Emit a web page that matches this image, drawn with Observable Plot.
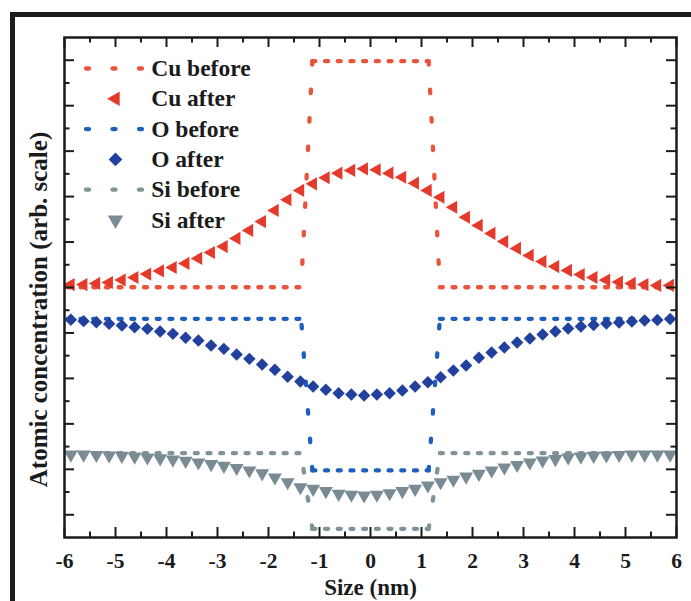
<!DOCTYPE html>
<html><head><meta charset="utf-8">
<script src="https://cdn.jsdelivr.net/npm/d3@7"></script>
<script src="https://cdn.jsdelivr.net/npm/@observablehq/plot@0.6"></script>
<style>
html,body{margin:0;padding:0;background:#fff;overflow:hidden}
#wrap{position:relative;width:691px;height:601px;overflow:hidden}
#border{position:absolute;left:10px;top:12px;width:720px;height:620px;border-top:5px solid #1c1c1a;border-left:5px solid #1c1c1a;pointer-events:none}
</style></head><body>
<div id="wrap"><div id="chart"></div><div id="border"></div></div>
<script>
// ---- data ----
const xAfter = [-5.875,-5.625,-5.375,-5.125,-4.875,-4.625,-4.375,-4.125,-3.875,-3.625,-3.375,-3.125,
  -2.875,-2.625,-2.375,-2.125,-1.875,-1.625,-1.375,-1.125,-0.875,-0.625,-0.375,-0.125,
  0.125,0.375,0.625,0.875,1.125,1.375,1.625,1.875,2.125,2.375,2.625,2.875,
  3.125,3.375,3.625,3.875,4.125,4.375,4.625,4.875,5.125,5.375,5.625,5.875];
const cuAfter = [11.13,11.13,11.18,11.22,11.33,11.44,11.59,11.73,11.88,12.06,12.28,12.54,
  12.80,13.16,13.51,13.90,14.39,14.86,15.27,15.56,15.83,16.03,16.15,16.22,
  16.18,16.03,15.85,15.59,15.27,14.97,14.53,14.09,13.73,13.38,13.02,12.72,
  12.41,12.14,11.92,11.75,11.57,11.44,11.33,11.24,11.18,11.13,11.09,11.09];
const oAfter = [9.58,9.52,9.47,9.40,9.33,9.25,9.18,9.06,8.96,8.79,8.67,8.45,
  8.30,8.05,7.86,7.61,7.38,7.07,6.86,6.64,6.50,6.35,6.29,6.25,
  6.29,6.35,6.47,6.64,6.83,7.05,7.35,7.57,7.91,8.14,8.36,8.58,
  8.76,8.93,9.06,9.20,9.28,9.35,9.42,9.46,9.50,9.55,9.57,9.61];
const siAfter = [3.65,3.65,3.63,3.61,3.59,3.56,3.52,3.48,3.43,3.37,3.30,3.23,
  3.15,3.06,2.95,2.82,2.64,2.43,2.21,2.14,2.04,1.92,1.88,1.85,
  1.88,1.95,2.04,2.14,2.29,2.43,2.54,2.68,2.80,2.95,3.08,3.19,
  3.30,3.39,3.45,3.52,3.56,3.59,3.61,3.63,3.65,3.65,3.65,3.65];
const beforeX = [-6, -1.36, -1.14, 1.14, 1.36, 6];
const cuBefore = [11.01, 11.01, 20.96, 20.96, 11.01, 11.01];
const oBefore  = [9.62, 9.62, 2.95, 2.95, 9.62, 9.62];
const siBefore = [3.71, 3.71, 0.38, 0.38, 3.71, 3.71];
const legendLabels = ["Cu before", "Cu after", "O before", "O after", "Si before", "Si after"];
const xTickLabels = [-6,-5,-4,-3,-2,-1,0,1,2,3,4,5,6];
const xMinorTicks = [-5.5,-4.5,-3.5,-2.5,-1.5,-0.5,0.5,1.5,2.5,3.5,4.5,5.5];
const yMajorTicks = [1,3,5,7,9,11,13,15,17,19,21];
const yMinorTicks = [2,4,6,8,10,12,14,16,18,20];
const xTitle = "Size (nm)";
const yTitle = "Atomic concentration (arb. scale)";

// ---- layout / style ----
const W = 691, H = 601, mL = 64, mR = 15, mT = 37, mB = 64;
const pw = W - mL - mR, ph = H - mT - mB;
const font = "'Liberation Serif','Times New Roman',serif";
const ink = "#1b1b1b";
const series = [
  {before: cuBefore, after: cuAfter, bc: "#e9553c", ac: "#e43a2b", symbol: "triangle", rotate: -90, r: 4.9},
  {before: oBefore,  after: oAfter,  bc: "#1d5fbd", ac: "#22409e", symbol: "diamond2", rotate: 0,   r: 5.6},
  {before: siBefore, after: siAfter, bc: "#80929a", ac: "#7a8b94", symbol: "triangle", rotate: 180, r: 5.2}
];
const px2x = p => -6 + (p - mL) * 12 / pw;
const py2y = p => 22 * (H - mB - p) / ph;

const marks = [];
const dashStyle = {x: "x", y: "y", strokeWidth: 4.3, strokeLinecap: "round"};
series.forEach(s => {
  const pts = beforeX.map((x, i) => ({x, y: s.before[i]}));
  const seg = (a, b) => [pts[a], pts[b]];
  marks.push(Plot.line(seg(0, 1), {...dashStyle, stroke: s.bc, strokeDasharray: "3,9.7", strokeDashoffset: -3.3}));
  marks.push(Plot.line(seg(2, 3), {...dashStyle, stroke: s.bc, strokeDasharray: "3,9.7"}));
  marks.push(Plot.line(seg(4, 5), {...dashStyle, stroke: s.bc, strokeDasharray: "3,9.7"}));
  marks.push(Plot.line(seg(2, 1), {...dashStyle, stroke: s.bc, strokeDasharray: "3.5,25"}));
  marks.push(Plot.line(seg(3, 4), {...dashStyle, stroke: s.bc, strokeDasharray: "3.5,25"}));
});
series.forEach(s => {
  marks.push(Plot.dot(xAfter.map((x, i) => ({x, y: s.after[i]})),
    {x: "x", y: "y", symbol: s.symbol, r: s.r, fill: s.ac, stroke: "none", rotate: s.rotate}));
});
// legend
legendLabels.forEach((lab, i) => {
  const yv = py2y(68 + 30.3 * i);
  const s = series[Math.floor(i / 2)];
  if (i % 2 === 0) {
    marks.push(Plot.line([{x: px2x(85.5), y: yv}, {x: px2x(141.5), y: yv}],
      {...dashStyle, stroke: s.bc, strokeDasharray: "3,23.5"}));
  } else {
    marks.push(Plot.dot([{x: px2x(115), y: yv}], {x: "x", y: "y", symbol: s.symbol, r: s.r * 1.1, fill: s.ac, rotate: s.rotate}));
  }
  marks.push(Plot.text([lab], {x: px2x(150.7), y: yv, text: d => d, textAnchor: "start", lineAnchor: "middle",
    fontSize: 23.5, fontWeight: "bold", fontFamily: font, fill: ink}));
});
// ticks (inward, all four sides)
const tk = {stroke: ink, strokeWidth: 2};
marks.push(Plot.tickX(xTickLabels, {x: d => d, insetTop: ph - 10, ...tk}));
marks.push(Plot.tickX(xTickLabels, {x: d => d, insetBottom: ph - 10, ...tk}));
marks.push(Plot.tickX(xMinorTicks, {x: d => d, insetTop: ph - 5.5, ...tk}));
marks.push(Plot.tickX(xMinorTicks, {x: d => d, insetBottom: ph - 5.5, ...tk}));
marks.push(Plot.tickY(yMajorTicks, {y: d => d, insetRight: pw - 10, ...tk}));
marks.push(Plot.tickY(yMajorTicks, {y: d => d, insetLeft: pw - 10, ...tk}));
marks.push(Plot.tickY(yMinorTicks, {y: d => d, insetRight: pw - 5.5, ...tk}));
marks.push(Plot.tickY(yMinorTicks, {y: d => d, insetLeft: pw - 5.5, ...tk}));
marks.push(Plot.frame({stroke: ink, strokeWidth: 2.5}));
// axis labels
marks.push(Plot.text(xTickLabels, {x: d => d, frameAnchor: "bottom", dy: 24, text: d => String(d),
  textAnchor: "middle", lineAnchor: "middle", fontSize: 21.5, fontWeight: "bold", fontFamily: font, fill: ink}));
marks.push(Plot.text([xTitle], {frameAnchor: "bottom", dy: 50, text: d => d,
  textAnchor: "middle", lineAnchor: "middle", fontSize: 23, fontWeight: "bold", fontFamily: font, fill: ink}));
marks.push(Plot.text([yTitle], {frameAnchor: "left", dx: -26, dy: 22, rotate: -90, text: d => d,
  textAnchor: "middle", lineAnchor: "middle", fontSize: 25, fontWeight: "bold", fontFamily: font, fill: ink}));

const chart = Plot.plot({
  width: W, height: H,
  marginLeft: mL, marginRight: mR, marginTop: mT, marginBottom: mB,
  x: {domain: [-6, 6], axis: null},
  y: {domain: [0, 22], axis: null},
  style: {background: "#fff", fontFamily: font, overflow: "visible"},
  marks
});
document.getElementById("chart").appendChild(chart);
</script>
</body></html>
